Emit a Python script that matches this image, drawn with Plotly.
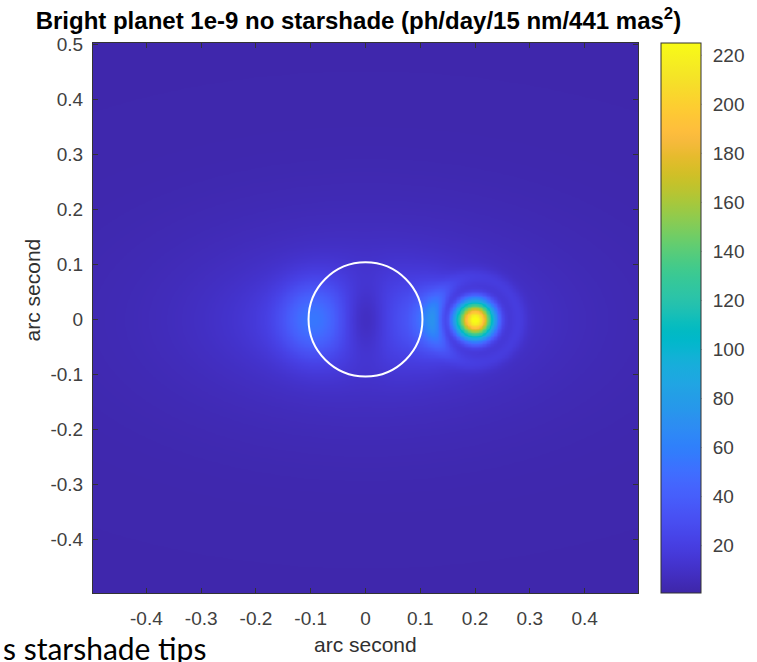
import numpy as np
import plotly.graph_objects as go

# ---- data -------------------------------------------------------------
title_text = "Bright planet 1e-9 no starshade (ph/day/15 nm/441 mas<sup>2</sup>)"
axis_label = "arc second"
x_ticks = [-0.4, -0.3, -0.2, -0.1, 0.0, 0.1, 0.2, 0.3, 0.4]
x_tick_text = ["-0.4", "-0.3", "-0.2", "-0.1", "0", "0.1", "0.2", "0.3", "0.4"]
y_ticks = [-0.4, -0.3, -0.2, -0.1, 0.0, 0.1, 0.2, 0.3, 0.4, 0.5]
y_tick_text = ["-0.4", "-0.3", "-0.2", "-0.1", "0", "0.1", "0.2", "0.3", "0.4", "0.5"]
cbar_ticks = [20, 40, 60, 80, 100, 120, 140, 160, 180, 200, 220]
color_limits = [0.7, 225.0]

# sky grid (arc seconds)
grid_step = 0.0025
grid_x = np.arange(-0.4975, 0.4975 + 1e-9, grid_step)
grid_y = np.arange(-0.4975, 0.5025 + 1e-9, grid_step)

# diffuse background level (ph/day/15 nm/441 mas^2)
background_level = 2.0

# residual starlight: elliptical components
halo_amp = [10.0, 22.0, 28.0, 40.0]
halo_x0 = [0.0, 0.01, -0.10, 0.125]
halo_y0 = [0.0, 0.0, 0.0, 0.0]
halo_sx = [0.38, 0.19, 0.055, 0.035]
halo_sy = [0.19, 0.085, 0.065, 0.05]

# darker core inside the inner working angle
core_depth = 0.8
core_sx = 0.045
core_sy = 0.09

# planet
planet_xy = [0.2, 0.0]
planet_amp = 210.0
planet_sigma = 0.024
planet_dark_ring = [0.052, 0.014, 0.85]   # radius, width, depth
planet_bright_ring = [0.08, 0.015, 7.0]   # radius, width, amplitude

# inner working angle marker
iwa_center = [0.0, 0.0]
iwa_radius = 0.104

# MATLAB parula colour map (64 entries)
parula = [
    [0.2422, 0.1504, 0.6603], [0.2504, 0.1650, 0.7076], [0.2578, 0.1818, 0.7511], [0.2647, 0.1978, 0.7952],
    [0.2706, 0.2147, 0.8364], [0.2751, 0.2342, 0.8710], [0.2783, 0.2559, 0.8991], [0.2803, 0.2782, 0.9221],
    [0.2813, 0.3006, 0.9414], [0.2810, 0.3228, 0.9579], [0.2795, 0.3447, 0.9717], [0.2760, 0.3667, 0.9829],
    [0.2699, 0.3892, 0.9906], [0.2602, 0.4123, 0.9952], [0.2440, 0.4358, 0.9988], [0.2206, 0.4603, 0.9973],
    [0.1963, 0.4847, 0.9892], [0.1834, 0.5074, 0.9798], [0.1786, 0.5289, 0.9682], [0.1764, 0.5499, 0.9520],
    [0.1687, 0.5703, 0.9359], [0.1540, 0.5902, 0.9218], [0.1460, 0.6091, 0.9079], [0.1380, 0.6276, 0.8973],
    [0.1248, 0.6459, 0.8883], [0.1113, 0.6635, 0.8763], [0.0952, 0.6798, 0.8598], [0.0689, 0.6948, 0.8394],
    [0.0297, 0.7082, 0.8163], [0.0036, 0.7203, 0.7917], [0.0067, 0.7312, 0.7660], [0.0433, 0.7411, 0.7394],
    [0.0964, 0.7500, 0.7120], [0.1408, 0.7584, 0.6842], [0.1717, 0.7670, 0.6554], [0.1938, 0.7758, 0.6251],
    [0.2161, 0.7843, 0.5923], [0.2470, 0.7918, 0.5567], [0.2906, 0.7973, 0.5188], [0.3406, 0.8008, 0.4789],
    [0.3909, 0.8029, 0.4354], [0.4456, 0.8024, 0.3909], [0.5044, 0.7993, 0.3480], [0.5616, 0.7942, 0.3045],
    [0.6174, 0.7876, 0.2612], [0.6720, 0.7793, 0.2227], [0.7242, 0.7698, 0.1910], [0.7738, 0.7598, 0.1646],
    [0.8203, 0.7498, 0.1535], [0.8634, 0.7406, 0.1596], [0.9035, 0.7330, 0.1774], [0.9393, 0.7288, 0.2100],
    [0.9728, 0.7298, 0.2394], [0.9956, 0.7434, 0.2371], [0.9970, 0.7659, 0.2199], [0.9952, 0.7893, 0.2028],
    [0.9892, 0.8136, 0.1885], [0.9786, 0.8386, 0.1766], [0.9676, 0.8639, 0.1643], [0.9610, 0.8890, 0.1537],
    [0.9597, 0.9135, 0.1423], [0.9628, 0.9373, 0.1265], [0.9691, 0.9606, 0.1064], [0.9769, 0.9839, 0.0805],
]
colorscale = [
    [i / (len(parula) - 1), "rgb({:.0f},{:.0f},{:.0f})".format(*(255 * np.array(c)))]
    for i, c in enumerate(parula)
]

# ---- build the image --------------------------------------------------
X, Y = np.meshgrid(grid_x, grid_y)

halo = np.zeros_like(X)
for a, x0, y0, sx, sy in zip(halo_amp, halo_x0, halo_y0, halo_sx, halo_sy):
    halo += a * np.exp(-((X - x0) / sx) ** 2 - ((Y - y0) / sy) ** 2)

halo *= 1.0 - core_depth * np.exp(-(X / core_sx) ** 2 - (Y / core_sy) ** 2)

R = np.hypot(X - planet_xy[0], Y - planet_xy[1])
halo *= 1.0 - planet_dark_ring[2] * np.exp(-((R - planet_dark_ring[0]) / planet_dark_ring[1]) ** 2)
halo += planet_bright_ring[2] * np.exp(-((R - planet_bright_ring[0]) / planet_bright_ring[1]) ** 2)

planet = planet_amp * np.exp(-(R ** 2) / (2 * planet_sigma ** 2))
image = background_level + halo + planet

# ---- figure -----------------------------------------------------------
tick_font = dict(family="Liberation Sans, Arial, sans-serif", size=19, color="#404040")
frame = "#333333"
cbar_x = 1.0417
cbar_thickness = 40

fig = go.Figure()
fig.add_trace(go.Heatmap(
    x=grid_x, y=grid_y, z=image,
    colorscale=colorscale, zmin=color_limits[0], zmax=color_limits[1],
    zsmooth="best",
    colorbar=dict(
        x=cbar_x, xanchor="left", y=0.5, yanchor="middle",
        len=1.0, lenmode="fraction", thickness=cbar_thickness,
        xpad=0, ypad=0,
        outlinecolor=frame, outlinewidth=1,
        ticks="outside", ticklen=8, tickcolor="rgba(0,0,0,0)",
        tickvals=cbar_ticks, tickfont=tick_font,
    ),
    showscale=True,
))

# small inward tick marks on the right edge of the colour bar
plot_w = 757 - 93 - 113
bar_right = cbar_x + (cbar_thickness + 1) / plot_w
for v in cbar_ticks:
    yp = (v - color_limits[0]) / (color_limits[1] - color_limits[0])
    fig.add_shape(type="line", xref="paper", yref="paper",
                  x0=bar_right - 5 / plot_w, x1=bar_right, y0=yp, y1=yp,
                  line=dict(color=frame, width=1))

fig.add_shape(
    type="circle", xref="x", yref="y",
    x0=iwa_center[0] - iwa_radius, x1=iwa_center[0] + iwa_radius,
    y0=iwa_center[1] - iwa_radius, y1=iwa_center[1] + iwa_radius,
    line=dict(color="white", width=2),
)

axis_common = dict(
    showline=True, linecolor=frame, linewidth=1, mirror="ticks",
    ticks="inside", ticklen=5, tickcolor=frame,
    showgrid=False, zeroline=False, tickfont=tick_font,
)
fig.update_xaxes(range=[grid_x[0], grid_x[-1]], tickvals=x_ticks, ticktext=x_tick_text,
                 ticklabelstandoff=8, **axis_common)
fig.update_yaxes(range=[-0.4975, 0.5025], tickvals=y_ticks, ticktext=y_tick_text,
                 ticklabelstandoff=5, **axis_common)

label_font = dict(family="Liberation Sans, Arial, sans-serif", size=21, color="#303030")
fig.add_annotation(text=axis_label, xref="paper", yref="paper", x=0.5, y=-0.094,
                   xanchor="center", yanchor="middle", showarrow=False, font=label_font)
fig.add_annotation(text=axis_label, xref="paper", yref="paper", x=-0.111, y=0.551,
                   xanchor="center", yanchor="middle", textangle=-90, showarrow=False, font=label_font)
fig.add_annotation(text="s starshade tips", xref="paper", yref="paper", x=-0.169, y=-0.064,
                   xanchor="left", yanchor="top", showarrow=False,
                   font=dict(family="Lato, sans-serif", size=30, color="black"))

fig.update_layout(
    width=757, height=662,
    margin=dict(l=93, r=113, t=43, b=69),
    paper_bgcolor="white", plot_bgcolor="white",
    title=dict(text="<b>" + title_text + "</b>", x=0.487, xref="paper", xanchor="center",
               y=1 - 21 / 662, yref="container", yanchor="middle",
               font=dict(family="Liberation Sans, Arial, sans-serif", size=24, color="black")),
)

fig.write_html("out.html")
